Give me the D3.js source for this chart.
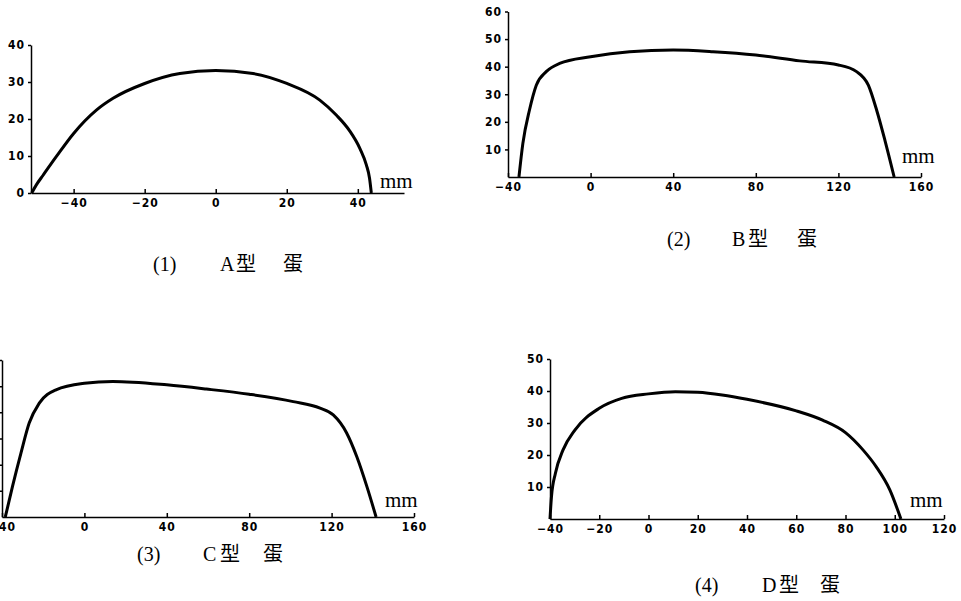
<!DOCTYPE html>
<html>
<head>
<meta charset="utf-8">
<script src="https://cdn.jsdelivr.net/npm/d3@7"></script>
<style>
  body { margin: 0; background: #fff; }
  .tick text { font-family: "DejaVu Sans Condensed", "Liberation Sans Narrow", sans-serif; font-weight: bold; font-size: 12px; letter-spacing: 1px; fill: #000; }
  .domain, .tick line { stroke: #000; stroke-width: 1.5; }
  .unit { font-family: "Liberation Serif", serif; font-size: 21px; }
  .cap { font-family: "Liberation Serif", "Noto Sans CJK SC", serif; font-size: 20px; }
</style>
</head>
<body>
<div id="chart"></div>
<script>
// egg profiles (mm)
var eggAx = [-51.8, -50.5, -48.6, -44.9, -40, -33.6, -28.9, -20, -10.1, 0, 10.5, 20, 29.3, 34, 37.7, 40.6, 42.4, 43.3, 43.8];
var eggAy = [0, 2.2, 4.8, 9.8, 16.1, 22.4, 25.6, 29.6, 32.3, 33.1, 32.3, 29.6, 25.1, 21, 16.8, 12, 7.6, 4, 0];

var eggBx = [-34.7, -32.8, -29.6, -26.3, -21.5, -15, 0, 18.9, 40, 59.3, 80, 101.3, 120, 128.8, 134.5, 138.5, 142.5, 147];
var eggBy = [0, 12.2, 24.3, 33.3, 38.2, 41.2, 43.6, 45.4, 46.0, 45.4, 44.2, 42.1, 40.6, 38.2, 33.3, 24.3, 13.4, 0];

var eggCx = [-38.4, -34.9, -30.8, -26.8, -21.9, -13.8, 0, 13.8, 40, 59.2, 80, 101.4, 114.4, 120.8, 127.3, 132.2, 137.1, 141.6];
var eggCy = [0, 11.7, 24.4, 35.9, 43.5, 48.6, 51.1, 51.8, 50.5, 48.9, 46.9, 44.1, 41.6, 39, 32.1, 23.1, 11.7, 0];

var eggDx = [-40, -39.4, -37.8, -34.7, -29.9, -20, -10.9, 0, 10.9, 20, 29.9, 40, 60, 70.7, 80, 87.1, 92.5, 98, 102.5];
var eggDy = [0, 7, 14.3, 21.6, 27.8, 34.6, 37.7, 39.1, 39.8, 39.6, 38.75, 37.4, 33.8, 30.9, 27, 21.6, 16.3, 9.1, 0];

// tick values
var ticksAx = [-40, -20, 0, 20, 40];
var ticksAy = [0, 10, 20, 30, 40];
var ticksBx = [-40, 0, 40, 80, 120, 160];
var ticksBy = [10, 20, 30, 40, 50, 60];
var ticksCx = [-40, 0, 40, 80, 120, 160];
var ticksCy = [10, 20, 30, 40, 50, 60];
var ticksDx = [-40, -20, 0, 20, 40, 60, 80, 100, 120];
var ticksDy = [10, 20, 30, 40, 50];

// captions
var capNums = ["(1)", "(2)", "(3)", "(4)"];
var capTypes = ["A", "B", "C", "D"];
var capWord = ["型", "蛋"];
var unitLabel = "mm";

var svg = d3.select("#chart").append("svg")
    .attr("width", 961)
    .attr("height", 601);

// panel layout (panel C's y labels fall off the left edge in the original, so they are not drawn)
var panels = [
    { xs: eggAx, ys: eggAy, tx: ticksAx, ty: ticksAy, yl: true, xd: [-52, 53], xr: [31, 404], yd: [0, 40], yr: [193, 45],
      unit: [380, 188], cap: [153, 220, 236, 283, 271] },
    { xs: eggBx, ys: eggBy, tx: ticksBx, ty: ticksBy, yl: true, xd: [-40, 160], xr: [508, 921], yd: [0, 60], yr: [177, 11.5],
      unit: [902, 163], cap: [667, 732, 748, 797, 246] },
    { xs: eggCx, ys: eggCy, tx: ticksCx, ty: ticksCy, yl: false, xd: [-40, 160], xr: [2, 414], yd: [0, 60], yr: [517, 360],
      unit: [385, 507], cap: [137, 203, 220, 263, 561] },
    { xs: eggDx, ys: eggDy, tx: ticksDx, ty: ticksDy, yl: true, xd: [-40, 120], xr: [550, 944], yd: [0, 50], yr: [519, 359],
      unit: [910, 507], cap: [695, 762, 779, 820, 592] }
];

panels.forEach(function(p, i) {
    var x = d3.scaleLinear().domain(p.xd).range(p.xr);
    var y = d3.scaleLinear().domain(p.yd).range(p.yr);
    var g = svg.append("g");

    g.append("g")
        .attr("transform", `translate(0, ${p.yr[0]})`)
        .call(d3.axisBottom(x).tickValues(p.tx).tickSizeInner(-4).tickSizeOuter(0).tickPadding(5).tickFormat(d3.format("d")));

    g.append("g")
        .attr("transform", `translate(${p.xr[0]}, 0)`)
        .call(d3.axisLeft(y).tickValues(p.ty).tickSizeInner(3).tickSizeOuter(0).tickPadding(3)
            .tickFormat(p.yl ? d3.format("d") : ""));

    g.selectAll(".domain").attr("fill", "none");

    var line = d3.line()
        .x(function(d) { return x(d[0]); })
        .y(function(d) { return y(d[1]); })
        .curve(d3.curveMonotoneX);

    g.append("path")
        .datum(d3.zip(p.xs, p.ys))
        .attr("d", line)
        .attr("fill", "none")
        .attr("stroke", "#000")
        .attr("stroke-width", 3)
        .attr("stroke-linejoin", "round");

    g.append("text")
        .attr("class", "unit")
        .attr("x", p.unit[0])
        .attr("y", p.unit[1])
        .text(unitLabel);

    var t = g.append("text").attr("class", "cap").attr("y", p.cap[4]);
    t.append("tspan").attr("x", p.cap[0]).text(capNums[i]);
    t.append("tspan").attr("x", p.cap[1]).text(capTypes[i]);
    t.append("tspan").attr("x", p.cap[2]).text(capWord[0]);
    t.append("tspan").attr("x", p.cap[3]).text(capWord[1]);
});
</script>
</body>
</html>
